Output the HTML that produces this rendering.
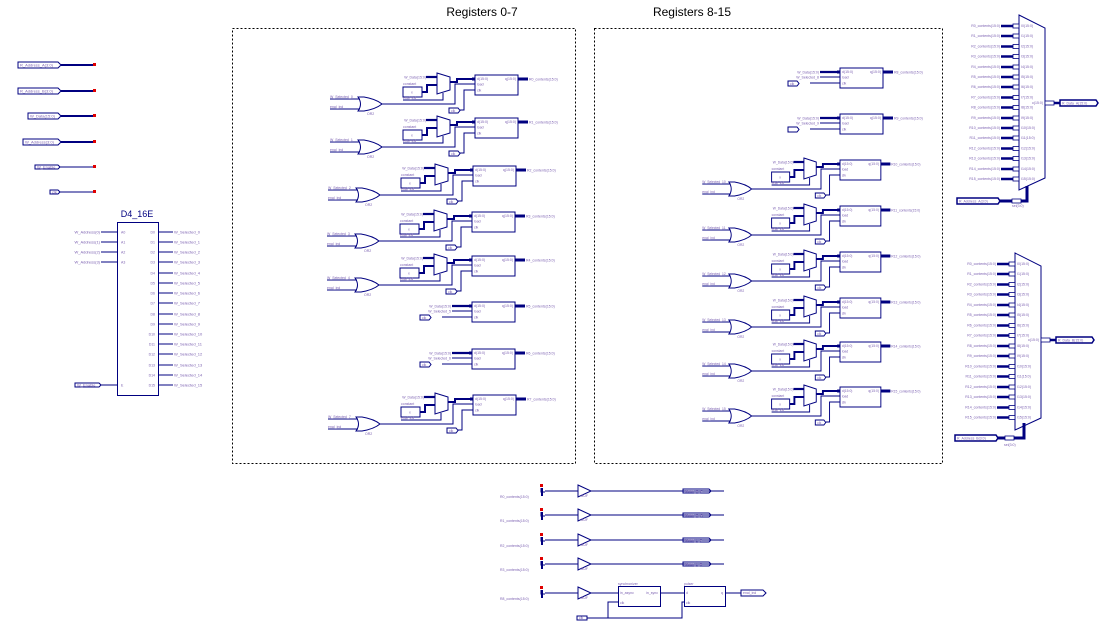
<!DOCTYPE html>
<html><head><meta charset="utf-8"><style>
html,body{margin:0;padding:0;background:#fff;}
svg{display:block;font-family:"Liberation Sans",sans-serif;}
.t{font-size:4px;fill:#7a5fb0;}
.ti{font-size:3.5px;fill:#7a5fb0;}
.h{font-size:12px;fill:#000;}
</style></head><body>
<svg width="1105" height="643" viewBox="0 0 1105 643" xmlns="http://www.w3.org/2000/svg">
<defs>
<g id="reg" fill="none" stroke="#000080">
<rect x="0" y="0" width="43" height="20" stroke-width="1"/>
<path d="M-3,3h3M-3,5h3M43,3h10M43,5h10" stroke-width="1"/>
<path d="M43,4h10" stroke-width="2"/>
</g>
<g id="row" fill="none" stroke="#000080">
<polygon points="-38,-2 -25,2 -25,15 -38,19" stroke-width="1"/>
<path d="M-49,2h11" stroke-width="2.2"/>
<rect x="-72" y="12" width="19" height="10" stroke-width="1"/>
<path d="M-53,17h5v-7h10" stroke-width="2"/>
<path d="M-72,25h40v-7" stroke-width="1"/>
<path d="M-25,7h7v-3h18" stroke-width="2"/>
<path d="M-117,22h6q12,2 18,7q-6,5 -18,7h-6q5,-7 0,-14z" stroke-width="1"/>
<path d="M-145,24h30M-145,34h30" stroke-width="1"/>
<path d="M-93,29h73v-20h20" stroke-width="1"/>
<path d="M-15,35h4v-20h11" stroke-width="1"/>
<polygon points="-26,33 -17,33 -15,35.5 -17,38 -26,38" stroke-width="1"/>
</g>
<g id="plain" fill="none" stroke="#000080">
<path d="M-20,4h20" stroke-width="2.2"/>
<path d="M-20,9h20" stroke-width="1"/>
<path d="M-30,15h30" stroke-width="1"/>
<polygon points="-52,13 -43,13 -41,15.5 -43,18 -52,18" stroke-width="1"/>
</g>
<g id="buf" fill="none" stroke="#000080">
<path d="M0,-3v4h4M4,0h33M37,-6l13,6l-13,6z" stroke-width="1"/>
<rect x="-1" y="-7" width="3" height="3" fill="#e00000" stroke="none"/>
<path d="M1,-3v8" stroke-width="2"/>
</g>
<g id="mi" fill="none" stroke="#000080"><path d="M0,0h18" stroke-width="2.5"/><rect x="12" y="-2" width="6" height="4" fill="#fff" stroke-width="0.8"/></g>
</defs>

<text x="482" y="16" class="h" text-anchor="middle">Registers 0-7</text>
<text x="692" y="16" class="h" text-anchor="middle">Registers 8-15</text>
<rect x="232.5" y="28.5" width="343" height="435" fill="none" stroke="#000" stroke-dasharray="2,2"/>
<rect x="594.5" y="28.5" width="348" height="435" fill="none" stroke="#000" stroke-dasharray="2,2"/>

<!-- left inputs -->
<g fill="none" stroke="#000080">
<path d="M18,62h40l3,3l-3,3h-40z M61,65h33" stroke-width="1"/><path d="M61,65h33" stroke-width="2"/>
<path d="M18,88h40l3,3l-3,3h-40z" stroke-width="1"/><path d="M61,91h33" stroke-width="2"/>
<path d="M28,113h30l3,3l-3,3h-30z" stroke-width="1"/><path d="M61,116h33" stroke-width="2"/>
<path d="M23,139h35l3,3l-3,3h-35z" stroke-width="1"/><path d="M61,142h33" stroke-width="2"/>
<path d="M35,165h23l2,2l-2,2h-23z M60,167h34" stroke-width="1"/>
<path d="M50,190h8l2,2l-2,2h-8z M60,192h34" stroke-width="1"/>
</g>
<g fill="#e00000"><rect x="93" y="63" width="3" height="3"/><rect x="93" y="89" width="3" height="3"/><rect x="93" y="114" width="3" height="3"/><rect x="93" y="140" width="3" height="3"/><rect x="93" y="165" width="3" height="3"/><rect x="93" y="190" width="3" height="3"/></g>
<text x="20" y="66.5" class="t">R_Address_A(3:0)</text>
<text x="20" y="92.5" class="t">R_Address_B(3:0)</text>
<text x="30" y="117.5" class="t">W_Data(15:0)</text>
<text x="25" y="143.5" class="t">W_Address(3:0)</text>
<text x="37" y="168.5" class="t">W_Enable</text>
<text x="52" y="193.5" class="t">clk</text>

<!-- D4_16E -->
<text x="137" y="217" font-size="9" text-anchor="middle" fill="#000080">D4_16E</text>
<rect x="117.5" y="222.5" width="41" height="173" fill="none" stroke="#000080"/>
<g stroke="#000080" fill="none">
<path d="M101,232h16M101,242h16M101,252h16M101,262h16M101,385h16"/>
<path d="M158,232h15M158,242h15M158,252h15M158,262h15M158,273h15M158,283h15M158,293h15M158,303h15M158,314h15M158,324h15M158,334h15M158,344h15M158,354h15M158,365h15M158,375h15M158,385h15"/>
<path d="M75,383h24l2,2l-2,2h-24z"/>
</g>
<g class="t" text-anchor="end">
<text x="100" y="233.5">W_Address(0)</text><text x="100" y="243.5">W_Address(1)</text><text x="100" y="253.5">W_Address(2)</text><text x="100" y="263.5">W_Address(3)</text>
</g>
<text x="77" y="386.5" class="t">W_Enable</text>
<g class="ti"><text x="121" y="233.5">A0</text><text x="121" y="243.5">A1</text><text x="121" y="253.5">A2</text><text x="121" y="263.5">A3</text><text x="121" y="386.5">E</text></g>
<g class="ti" text-anchor="end"><text x="155" y="233.5">D0</text><text x="155" y="243.5">D1</text><text x="155" y="253.5">D2</text><text x="155" y="263.5">D3</text><text x="155" y="274.5">D4</text><text x="155" y="284.5">D5</text><text x="155" y="294.5">D6</text><text x="155" y="304.5">D7</text><text x="155" y="315.5">D8</text><text x="155" y="325.5">D9</text><text x="155" y="335.5">D10</text><text x="155" y="345.5">D11</text><text x="155" y="355.5">D12</text><text x="155" y="366.5">D13</text><text x="155" y="376.5">D14</text><text x="155" y="386.5">D15</text></g>
<g class="t"><text x="174" y="233.5">W_Selected_0</text><text x="174" y="243.5">W_Selected_1</text><text x="174" y="253.5">W_Selected_2</text><text x="174" y="263.5">W_Selected_3</text><text x="174" y="274.5">W_Selected_4</text><text x="174" y="284.5">W_Selected_5</text><text x="174" y="294.5">W_Selected_6</text><text x="174" y="304.5">W_Selected_7</text><text x="174" y="315.5">W_Selected_8</text><text x="174" y="325.5">W_Selected_9</text><text x="174" y="335.5">W_Selected_10</text><text x="174" y="345.5">W_Selected_11</text><text x="174" y="355.5">W_Selected_12</text><text x="174" y="366.5">W_Selected_13</text><text x="174" y="376.5">W_Selected_14</text><text x="174" y="386.5">W_Selected_15</text></g>

<!-- Registers 0-7 rows with OR -->
<g transform="translate(475,75)"><use href="#row"/><use href="#reg"/>
<g class="ti"><text x="-49" y="3.5" text-anchor="end">W_Data(15:0)</text><text x="-72" y="10">constant</text><text x="-64" y="18.5">x</text><text x="-72" y="24">enal_ind</text><text x="-145" y="23">W_Selected_0</text><text x="-145" y="33">enal_ind</text><text x="-108" y="40">OR2</text><text x="-24" y="37">clk</text><text x="2" y="5">d(15:0)</text><text x="2" y="10.5">load</text><text x="2" y="16.5">clk</text><text x="41" y="5" text-anchor="end">q(15:0)</text><text x="54" y="5.5">R0_contents(15:0)</text></g></g>
<g transform="translate(475,118)"><use href="#row"/><use href="#reg"/>
<g class="ti"><text x="-49" y="3.5" text-anchor="end">W_Data(15:0)</text><text x="-72" y="10">constant</text><text x="-64" y="18.5">x</text><text x="-72" y="24">enal_ind</text><text x="-145" y="23">W_Selected_1</text><text x="-145" y="33">enal_ind</text><text x="-108" y="40">OR2</text><text x="-24" y="37">clk</text><text x="2" y="5">d(15:0)</text><text x="2" y="10.5">load</text><text x="2" y="16.5">clk</text><text x="41" y="5" text-anchor="end">q(15:0)</text><text x="54" y="5.5">R1_contents(15:0)</text></g></g>
<g transform="translate(473,166)"><use href="#row"/><use href="#reg"/>
<g class="ti"><text x="-49" y="3.5" text-anchor="end">W_Data(15:0)</text><text x="-72" y="10">constant</text><text x="-64" y="18.5">x</text><text x="-72" y="24">enal_ind</text><text x="-145" y="23">W_Selected_2</text><text x="-145" y="33">enal_ind</text><text x="-108" y="40">OR2</text><text x="-24" y="37">clk</text><text x="2" y="5">d(15:0)</text><text x="2" y="10.5">load</text><text x="2" y="16.5">clk</text><text x="41" y="5" text-anchor="end">q(15:0)</text><text x="54" y="5.5">R2_contents(15:0)</text></g></g>
<g transform="translate(472,212)"><use href="#row"/><use href="#reg"/>
<g class="ti"><text x="-49" y="3.5" text-anchor="end">W_Data(15:0)</text><text x="-72" y="10">constant</text><text x="-64" y="18.5">x</text><text x="-72" y="24">enal_ind</text><text x="-145" y="23">W_Selected_3</text><text x="-145" y="33">enal_ind</text><text x="-108" y="40">OR2</text><text x="-24" y="37">clk</text><text x="2" y="5">d(15:0)</text><text x="2" y="10.5">load</text><text x="2" y="16.5">clk</text><text x="41" y="5" text-anchor="end">q(15:0)</text><text x="54" y="5.5">R3_contents(15:0)</text></g></g>
<g transform="translate(472,256)"><use href="#row"/><use href="#reg"/>
<g class="ti"><text x="-49" y="3.5" text-anchor="end">W_Data(15:0)</text><text x="-72" y="10">constant</text><text x="-64" y="18.5">x</text><text x="-72" y="24">enal_ind</text><text x="-145" y="23">W_Selected_4</text><text x="-145" y="33">enal_ind</text><text x="-108" y="40">OR2</text><text x="-24" y="37">clk</text><text x="2" y="5">d(15:0)</text><text x="2" y="10.5">load</text><text x="2" y="16.5">clk</text><text x="41" y="5" text-anchor="end">q(15:0)</text><text x="54" y="5.5">R4_contents(15:0)</text></g></g>
<g transform="translate(472,302)"><use href="#plain"/><use href="#reg"/>
<g class="ti"><text x="-21" y="5.5" text-anchor="end">W_Data(15:0)</text><text x="-21" y="10.5" text-anchor="end">W_Selected_5</text><text x="-50" y="17">clk</text><text x="2" y="5">d(15:0)</text><text x="2" y="10.5">load</text><text x="2" y="16.5">clk</text><text x="41" y="5" text-anchor="end">q(15:0)</text><text x="54" y="5.5">R5_contents(15:0)</text></g></g>
<g transform="translate(472,349)"><use href="#plain"/><use href="#reg"/>
<g class="ti"><text x="-21" y="5.5" text-anchor="end">W_Data(15:0)</text><text x="-21" y="10.5" text-anchor="end">W_Selected_6</text><text x="-50" y="17">clk</text><text x="2" y="5">d(15:0)</text><text x="2" y="10.5">load</text><text x="2" y="16.5">clk</text><text x="41" y="5" text-anchor="end">q(15:0)</text><text x="54" y="5.5">R6_contents(15:0)</text></g></g>
<g transform="translate(473,395)"><use href="#row"/><use href="#reg"/>
<g class="ti"><text x="-49" y="3.5" text-anchor="end">W_Data(15:0)</text><text x="-72" y="10">constant</text><text x="-64" y="18.5">x</text><text x="-72" y="24">enal_ind</text><text x="-145" y="23">W_Selected_7</text><text x="-145" y="33">enal_ind</text><text x="-108" y="40">OR2</text><text x="-24" y="37">clk</text><text x="2" y="5">d(15:0)</text><text x="2" y="10.5">load</text><text x="2" y="16.5">clk</text><text x="41" y="5" text-anchor="end">q(15:0)</text><text x="54" y="5.5">R7_contents(15:0)</text></g></g>

<!-- Registers 8-15 -->
<g transform="translate(840,68)"><use href="#plain"/><use href="#reg"/>
<g class="ti"><text x="-21" y="5.5" text-anchor="end">W_Data(15:0)</text><text x="-21" y="10.5" text-anchor="end">W_Selected_8</text><text x="-50" y="17">clk</text><text x="2" y="5">d(15:0)</text><text x="2" y="10.5">load</text><text x="2" y="16.5">clk</text><text x="41" y="5" text-anchor="end">q(15:0)</text><text x="54" y="5.5">R8_contents(15:0)</text></g></g>
<g transform="translate(840,114)"><use href="#plain"/><use href="#reg"/>
<g class="ti"><text x="-21" y="5.5" text-anchor="end">W_Data(15:0)</text><text x="-21" y="10.5" text-anchor="end">W_Selected_9</text><text x="2" y="5">d(15:0)</text><text x="2" y="10.5">load</text><text x="2" y="16.5">clk</text><text x="41" y="5" text-anchor="end">q(15:0)</text><text x="54" y="5.5">R9_contents(15:0)</text></g></g>
<g transform="translate(840,160) scale(0.95,1)"><use href="#row"/><use href="#reg"/>
<g class="ti"><text x="-49" y="3.5" text-anchor="end">W_Data(15:0)</text><text x="-72" y="10">constant</text><text x="-64" y="18.5">x</text><text x="-72" y="24">enal_ind</text><text x="-145" y="23">W_Selected_10</text><text x="-145" y="33">enal_ind</text><text x="-108" y="40">OR2</text><text x="-24" y="37">clk</text><text x="2" y="5">d(15:0)</text><text x="2" y="10.5">load</text><text x="2" y="16.5">clk</text><text x="41" y="5" text-anchor="end">q(15:0)</text><text x="54" y="5.5">R10_contents(15:0)</text></g></g>
<g transform="translate(840,206) scale(0.95,1)"><use href="#row"/><use href="#reg"/>
<g class="ti"><text x="-49" y="3.5" text-anchor="end">W_Data(15:0)</text><text x="-72" y="10">constant</text><text x="-64" y="18.5">x</text><text x="-72" y="24">enal_ind</text><text x="-145" y="23">W_Selected_11</text><text x="-145" y="33">enal_ind</text><text x="-108" y="40">OR2</text><text x="-24" y="37">clk</text><text x="2" y="5">d(15:0)</text><text x="2" y="10.5">load</text><text x="2" y="16.5">clk</text><text x="41" y="5" text-anchor="end">q(15:0)</text><text x="54" y="5.5">R11_contents(15:0)</text></g></g>
<g transform="translate(840,252) scale(0.95,1)"><use href="#row"/><use href="#reg"/>
<g class="ti"><text x="-49" y="3.5" text-anchor="end">W_Data(15:0)</text><text x="-72" y="10">constant</text><text x="-64" y="18.5">x</text><text x="-72" y="24">enal_ind</text><text x="-145" y="23">W_Selected_12</text><text x="-145" y="33">enal_ind</text><text x="-108" y="40">OR2</text><text x="-24" y="37">clk</text><text x="2" y="5">d(15:0)</text><text x="2" y="10.5">load</text><text x="2" y="16.5">clk</text><text x="41" y="5" text-anchor="end">q(15:0)</text><text x="54" y="5.5">R12_contents(15:0)</text></g></g>
<g transform="translate(840,298) scale(0.95,1)"><use href="#row"/><use href="#reg"/>
<g class="ti"><text x="-49" y="3.5" text-anchor="end">W_Data(15:0)</text><text x="-72" y="10">constant</text><text x="-64" y="18.5">x</text><text x="-72" y="24">enal_ind</text><text x="-145" y="23">W_Selected_13</text><text x="-145" y="33">enal_ind</text><text x="-108" y="40">OR2</text><text x="-24" y="37">clk</text><text x="2" y="5">d(15:0)</text><text x="2" y="10.5">load</text><text x="2" y="16.5">clk</text><text x="41" y="5" text-anchor="end">q(15:0)</text><text x="54" y="5.5">R13_contents(15:0)</text></g></g>
<g transform="translate(840,342) scale(0.95,1)"><use href="#row"/><use href="#reg"/>
<g class="ti"><text x="-49" y="3.5" text-anchor="end">W_Data(15:0)</text><text x="-72" y="10">constant</text><text x="-64" y="18.5">x</text><text x="-72" y="24">enal_ind</text><text x="-145" y="23">W_Selected_14</text><text x="-145" y="33">enal_ind</text><text x="-108" y="40">OR2</text><text x="-24" y="37">clk</text><text x="2" y="5">d(15:0)</text><text x="2" y="10.5">load</text><text x="2" y="16.5">clk</text><text x="41" y="5" text-anchor="end">q(15:0)</text><text x="54" y="5.5">R14_contents(15:0)</text></g></g>
<g transform="translate(840,387) scale(0.95,1)"><use href="#row"/><use href="#reg"/>
<g class="ti"><text x="-49" y="3.5" text-anchor="end">W_Data(15:0)</text><text x="-72" y="10">constant</text><text x="-64" y="18.5">x</text><text x="-72" y="24">enal_ind</text><text x="-145" y="23">W_Selected_15</text><text x="-145" y="33">enal_ind</text><text x="-108" y="40">OR2</text><text x="-24" y="37">clk</text><text x="2" y="5">d(15:0)</text><text x="2" y="10.5">load</text><text x="2" y="16.5">clk</text><text x="41" y="5" text-anchor="end">q(15:0)</text><text x="54" y="5.5">R15_contents(15:0)</text></g></g>

<!-- Mux A -->
<polygon points="1019,15 1045,28 1045,178 1019,190" fill="none" stroke="#000080"/>
<g transform="translate(1001,0)"><use href="#mi" y="26"/><use href="#mi" y="36"/><use href="#mi" y="46.5"/><use href="#mi" y="56.5"/><use href="#mi" y="67"/><use href="#mi" y="77"/><use href="#mi" y="87"/><use href="#mi" y="97.5"/><use href="#mi" y="107.5"/><use href="#mi" y="118"/><use href="#mi" y="128"/><use href="#mi" y="138"/><use href="#mi" y="148.5"/><use href="#mi" y="158.5"/><use href="#mi" y="169"/><use href="#mi" y="179"/></g>
<g class="ti" text-anchor="end"><text x="1000" y="27">R0_contents(15:0)</text><text x="1000" y="37">R1_contents(15:0)</text><text x="1000" y="47.5">R2_contents(15:0)</text><text x="1000" y="57.5">R3_contents(15:0)</text><text x="1000" y="68">R4_contents(15:0)</text><text x="1000" y="78">R5_contents(15:0)</text><text x="1000" y="88">R6_contents(15:0)</text><text x="1000" y="98.5">R7_contents(15:0)</text><text x="1000" y="108.5">R8_contents(15:0)</text><text x="1000" y="119">R9_contents(15:0)</text><text x="1000" y="129">R10_contents(15:0)</text><text x="1000" y="139">R11_contents(15:0)</text><text x="1000" y="149.5">R12_contents(15:0)</text><text x="1000" y="159.5">R13_contents(15:0)</text><text x="1000" y="170">R14_contents(15:0)</text><text x="1000" y="180">R15_contents(15:0)</text></g>
<g class="ti"><text x="1021" y="27">I0(15:0)</text><text x="1021" y="37">I1(15:0)</text><text x="1021" y="47.5">I2(15:0)</text><text x="1021" y="57.5">I3(15:0)</text><text x="1021" y="68">I4(15:0)</text><text x="1021" y="78">I5(15:0)</text><text x="1021" y="88">I6(15:0)</text><text x="1021" y="98.5">I7(15:0)</text><text x="1021" y="108.5">I8(15:0)</text><text x="1021" y="119">I9(15:0)</text><text x="1021" y="129">I10(15:0)</text><text x="1021" y="139">I11(15:0)</text><text x="1021" y="149.5">I12(15:0)</text><text x="1021" y="159.5">I13(15:0)</text><text x="1021" y="170">I14(15:0)</text><text x="1021" y="180">I15(15:0)</text><text x="1043" y="104" text-anchor="end">o(15:0)</text><text x="1012" y="207">sel(3:0)</text></g>
<g fill="none" stroke="#000080"><path d="M1045,103h15" stroke-width="2.5"/><rect x="1045" y="101" width="9" height="4" fill="#fff" stroke-width="0.8"/><path d="M1060,100h36l2,3l-2,3h-36z" stroke-width="1.5"/>
<path d="M1000,201h27v-15" stroke-width="3"/><rect x="1012" y="199" width="9" height="4" fill="#fff" stroke-width="0.8"/><path d="M957,198h41l2,3l-2,3h-41z" stroke-width="1.5"/></g>
<text x="1062" y="104.5" class="ti">R_Data_A(15:0)</text>
<text x="959" y="202.5" class="ti">R_Address_A(3:0)</text>

<!-- Mux B -->
<polygon points="1015,253 1041,266 1041,418 1015,430" fill="none" stroke="#000080"/>
<g transform="translate(997,0)"><use href="#mi" y="264"/><use href="#mi" y="274"/><use href="#mi" y="284.5"/><use href="#mi" y="294.5"/><use href="#mi" y="305"/><use href="#mi" y="315"/><use href="#mi" y="325.5"/><use href="#mi" y="335.5"/><use href="#mi" y="346"/><use href="#mi" y="356"/><use href="#mi" y="366.5"/><use href="#mi" y="376.5"/><use href="#mi" y="387"/><use href="#mi" y="397"/><use href="#mi" y="407.5"/><use href="#mi" y="417.5"/></g>
<g class="ti" text-anchor="end"><text x="996" y="265">R0_contents(15:0)</text><text x="996" y="275">R1_contents(15:0)</text><text x="996" y="285.5">R2_contents(15:0)</text><text x="996" y="295.5">R3_contents(15:0)</text><text x="996" y="306">R4_contents(15:0)</text><text x="996" y="316">R5_contents(15:0)</text><text x="996" y="326.5">R6_contents(15:0)</text><text x="996" y="336.5">R7_contents(15:0)</text><text x="996" y="347">R8_contents(15:0)</text><text x="996" y="357">R9_contents(15:0)</text><text x="996" y="367.5">R10_contents(15:0)</text><text x="996" y="377.5">R11_contents(15:0)</text><text x="996" y="388">R12_contents(15:0)</text><text x="996" y="398">R13_contents(15:0)</text><text x="996" y="408.5">R14_contents(15:0)</text><text x="996" y="418.5">R15_contents(15:0)</text></g>
<g class="ti"><text x="1017" y="265">I0(15:0)</text><text x="1017" y="275">I1(15:0)</text><text x="1017" y="285.5">I2(15:0)</text><text x="1017" y="295.5">I3(15:0)</text><text x="1017" y="306">I4(15:0)</text><text x="1017" y="316">I5(15:0)</text><text x="1017" y="326.5">I6(15:0)</text><text x="1017" y="336.5">I7(15:0)</text><text x="1017" y="347">I8(15:0)</text><text x="1017" y="357">I9(15:0)</text><text x="1017" y="367.5">I10(15:0)</text><text x="1017" y="377.5">I11(15:0)</text><text x="1017" y="388">I12(15:0)</text><text x="1017" y="398">I13(15:0)</text><text x="1017" y="408.5">I14(15:0)</text><text x="1017" y="418.5">I15(15:0)</text><text x="1039" y="341" text-anchor="end">o(15:0)</text><text x="1004" y="446">sel(3:0)</text></g>
<g fill="none" stroke="#000080"><path d="M1041,340h15" stroke-width="2.5"/><rect x="1041" y="338" width="9" height="4" fill="#fff" stroke-width="0.8"/><path d="M1056,337h36l2,3l-2,3h-36z" stroke-width="1.5"/>
<path d="M997,438h27v-15" stroke-width="3"/><rect x="1005" y="436" width="9" height="4" fill="#fff" stroke-width="0.8"/><path d="M955,435h41l2,3l-2,3h-41z" stroke-width="1.5"/></g>
<text x="1058" y="341.5" class="ti">R_Data_B(15:0)</text>
<text x="957" y="439.5" class="ti">R_Address_B(3:0)</text>

<!-- bottom -->
<g transform="translate(541,491)"><use href="#buf"/><path d="M50,0h133" stroke="#000080" fill="none"/></g>
<g transform="translate(541,515)"><use href="#buf"/><path d="M50,0h133" stroke="#000080" fill="none"/></g>
<g transform="translate(541,540)"><use href="#buf"/><path d="M50,0h133" stroke="#000080" fill="none"/></g>
<g transform="translate(541,564)"><use href="#buf"/><path d="M50,0h133" stroke="#000080" fill="none"/></g>
<g transform="translate(541,593)"><use href="#buf"/><path d="M50,0h28" stroke="#000080" fill="none"/></g>
<g fill="none" stroke="#000080">
<path d="M683,489h26l2,2l-2,2h-26z M683,513h26l2,2l-2,2h-26z M683,538h26l2,2l-2,2h-26z M683,562h26l2,2l-2,2h-26z"/>
<rect x="618.5" y="586.5" width="42" height="20"/><rect x="684.5" y="586.5" width="41" height="20"/>
<path d="M660,593h24M725,593h16M741,590h22l3,3l-3,3h-22z"/>
<path d="M618,602h-10v16h74v-16h3"/>
<path d="M577,616h10v4h-10z M587,618h21"/>
</g>
<g class="ti">
<text x="500" y="498">R0_contents(15:0)</text><text x="500" y="522">R1_contents(15:0)</text><text x="500" y="547">R2_contents(15:0)</text><text x="500" y="571">R3_contents(15:0)</text><text x="500" y="600">R8_contents(15:0)</text>
<text x="581" y="497">BUF</text><text x="581" y="521">BUF</text><text x="581" y="546">BUF</text><text x="581" y="570">BUF</text><text x="581" y="599">BUF</text>
<text x="685" y="492.5">Motor_R_F</text><text x="685" y="516.5">Motor_R_R</text><text x="685" y="541.5">Motor_L_F</text><text x="685" y="565.5">Motor_L_R</text>
<text x="618" y="585">synchronizer</text><text x="684" y="585">pulser</text>
<text x="620" y="594">in_async</text><text x="658" y="594" text-anchor="end">in_sync</text><text x="620" y="604">clk</text>
<text x="686" y="594">d</text><text x="723" y="594" text-anchor="end">q</text><text x="686" y="604">clk</text>
<text x="743" y="594">enal_ind</text><text x="579" y="619">clk</text>
</g>
</svg>
</body></html>
